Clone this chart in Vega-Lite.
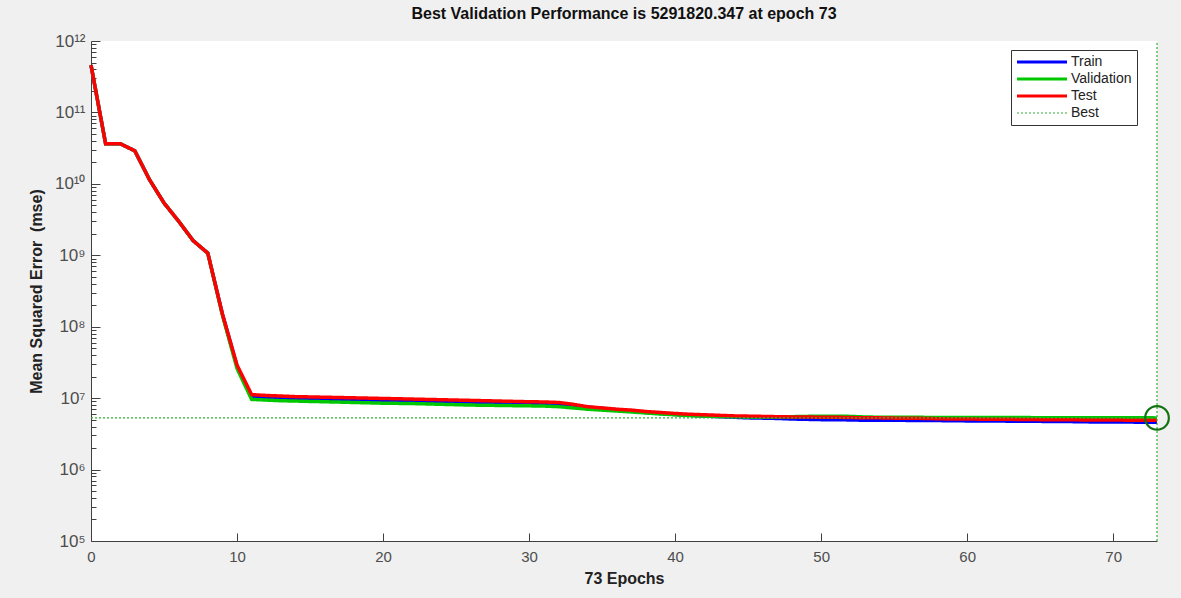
{
  "$schema": "https://vega.github.io/schema/vega-lite/v6.json",
  "width": 1066,
  "height": 500,
  "autosize": {"type": "none"},
  "padding": {"left": 91, "top": 41, "right": 24, "bottom": 57},
  "background": "#f0f0f0",
  "config": {"view": {"fill": "white", "stroke": null}, "font": "Liberation Sans"},
  "title": {"text": "Best Validation Performance is 5291820.347 at epoch 73", "fontSize": 16, "fontWeight": "bold", "color": "#111111", "offset": 10, "font": "Liberation Sans"},
  "datasets": {
    "perf": [
      {"epoch": 0, "Train": 4.6e11, "Validation": 4.6e11, "Test": 4.6e11},
      {"epoch": 1, "Train": 3.65e10, "Validation": 3.65e10, "Test": 3.65e10},
      {"epoch": 2, "Train": 3.65e10, "Validation": 3.65e10, "Test": 3.65e10},
      {"epoch": 3, "Train": 2.9e10, "Validation": 2.9e10, "Test": 2.9e10},
      {"epoch": 4, "Train": 1.15e10, "Validation": 1.15e10, "Test": 1.15e10},
      {"epoch": 5, "Train": 5.4e9, "Validation": 5.4e9, "Test": 5.4e9},
      {"epoch": 6, "Train": 3.0e9, "Validation": 3.0e9, "Test": 3.0e9},
      {"epoch": 7, "Train": 1.6e9, "Validation": 1.6e9, "Test": 1.6e9},
      {"epoch": 8, "Train": 1.07e9, "Validation": 1.07e9, "Test": 1.07e9},
      {"epoch": 9, "Train": 1.5e8, "Validation": 1.45e8, "Test": 1.5e8},
      {"epoch": 10, "Train": 2.8e7, "Validation": 2.6e7, "Test": 2.9e7},
      {"epoch": 11, "Train": 1.02e7, "Validation": 9.6e6, "Test": 1.12e7},
      {"epoch": 12, "Train": 1.0e7, "Validation": 9.4e6, "Test": 1.09e7},
      {"epoch": 13, "Train": 9.9e6, "Validation": 9.2e6, "Test": 1.07e7},
      {"epoch": 14, "Train": 9.8e6, "Validation": 9.1e6, "Test": 1.05e7},
      {"epoch": 15, "Train": 9.7e6, "Validation": 9.0e6, "Test": 1.04e7},
      {"epoch": 16, "Train": 9.6e6, "Validation": 8.9e6, "Test": 1.03e7},
      {"epoch": 17, "Train": 9.5e6, "Validation": 8.8e6, "Test": 1.02e7},
      {"epoch": 18, "Train": 9.4e6, "Validation": 8.7e6, "Test": 1.01e7},
      {"epoch": 19, "Train": 9.3e6, "Validation": 8.6e6, "Test": 1.0e7},
      {"epoch": 20, "Train": 9.2e6, "Validation": 8.5e6, "Test": 9.9e6},
      {"epoch": 21, "Train": 9.1e6, "Validation": 8.45e6, "Test": 9.8e6},
      {"epoch": 22, "Train": 9.0e6, "Validation": 8.4e6, "Test": 9.7e6},
      {"epoch": 23, "Train": 8.95e6, "Validation": 8.3e6, "Test": 9.6e6},
      {"epoch": 24, "Train": 8.9e6, "Validation": 8.2e6, "Test": 9.5e6},
      {"epoch": 25, "Train": 8.85e6, "Validation": 8.1e6, "Test": 9.4e6},
      {"epoch": 26, "Train": 8.8e6, "Validation": 8.0e6, "Test": 9.3e6},
      {"epoch": 27, "Train": 8.7e6, "Validation": 7.95e6, "Test": 9.2e6},
      {"epoch": 28, "Train": 8.6e6, "Validation": 7.9e6, "Test": 9.1e6},
      {"epoch": 29, "Train": 8.55e6, "Validation": 7.85e6, "Test": 9.0e6},
      {"epoch": 30, "Train": 8.5e6, "Validation": 7.8e6, "Test": 8.9e6},
      {"epoch": 31, "Train": 8.45e6, "Validation": 7.75e6, "Test": 8.85e6},
      {"epoch": 32, "Train": 8.3e6, "Validation": 7.6e6, "Test": 8.7e6},
      {"epoch": 33, "Train": 7.9e6, "Validation": 7.3e6, "Test": 8.2e6},
      {"epoch": 34, "Train": 7.5e6, "Validation": 7.0e6, "Test": 7.6e6},
      {"epoch": 35, "Train": 7.2e6, "Validation": 6.8e6, "Test": 7.3e6},
      {"epoch": 36, "Train": 6.9e6, "Validation": 6.6e6, "Test": 7.0e6},
      {"epoch": 37, "Train": 6.6e6, "Validation": 6.4e6, "Test": 6.8e6},
      {"epoch": 38, "Train": 6.3e6, "Validation": 6.2e6, "Test": 6.5e6},
      {"epoch": 39, "Train": 6.1e6, "Validation": 6.0e6, "Test": 6.3e6},
      {"epoch": 40, "Train": 5.9e6, "Validation": 5.85e6, "Test": 6.1e6},
      {"epoch": 41, "Train": 5.75e6, "Validation": 5.7e6, "Test": 5.95e6},
      {"epoch": 42, "Train": 5.6e6, "Validation": 5.6e6, "Test": 5.85e6},
      {"epoch": 43, "Train": 5.5e6, "Validation": 5.55e6, "Test": 5.75e6},
      {"epoch": 44, "Train": 5.4e6, "Validation": 5.5e6, "Test": 5.65e6},
      {"epoch": 45, "Train": 5.3e6, "Validation": 5.45e6, "Test": 5.6e6},
      {"epoch": 46, "Train": 5.25e6, "Validation": 5.45e6, "Test": 5.55e6},
      {"epoch": 47, "Train": 5.2e6, "Validation": 5.45e6, "Test": 5.5e6},
      {"epoch": 48, "Train": 5.1e6, "Validation": 5.5e6, "Test": 5.45e6},
      {"epoch": 49, "Train": 5.05e6, "Validation": 5.55e6, "Test": 5.45e6},
      {"epoch": 50, "Train": 5.0e6, "Validation": 5.6e6, "Test": 5.4e6},
      {"epoch": 51, "Train": 5.0e6, "Validation": 5.6e6, "Test": 5.4e6},
      {"epoch": 52, "Train": 4.95e6, "Validation": 5.55e6, "Test": 5.35e6},
      {"epoch": 53, "Train": 4.9e6, "Validation": 5.45e6, "Test": 5.3e6},
      {"epoch": 54, "Train": 4.9e6, "Validation": 5.4e6, "Test": 5.3e6},
      {"epoch": 55, "Train": 4.9e6, "Validation": 5.4e6, "Test": 5.25e6},
      {"epoch": 56, "Train": 4.88e6, "Validation": 5.4e6, "Test": 5.25e6},
      {"epoch": 57, "Train": 4.86e6, "Validation": 5.38e6, "Test": 5.2e6},
      {"epoch": 58, "Train": 4.85e6, "Validation": 5.37e6, "Test": 5.15e6},
      {"epoch": 59, "Train": 4.83e6, "Validation": 5.36e6, "Test": 5.1e6},
      {"epoch": 60, "Train": 4.8e6, "Validation": 5.36e6, "Test": 5.1e6},
      {"epoch": 61, "Train": 4.8e6, "Validation": 5.35e6, "Test": 5.08e6},
      {"epoch": 62, "Train": 4.78e6, "Validation": 5.35e6, "Test": 5.06e6},
      {"epoch": 63, "Train": 4.76e6, "Validation": 5.34e6, "Test": 5.05e6},
      {"epoch": 64, "Train": 4.75e6, "Validation": 5.34e6, "Test": 5.02e6},
      {"epoch": 65, "Train": 4.73e6, "Validation": 5.33e6, "Test": 5.0e6},
      {"epoch": 66, "Train": 4.72e6, "Validation": 5.33e6, "Test": 4.98e6},
      {"epoch": 67, "Train": 4.7e6, "Validation": 5.32e6, "Test": 4.97e6},
      {"epoch": 68, "Train": 4.66e6, "Validation": 5.32e6, "Test": 4.96e6},
      {"epoch": 69, "Train": 4.64e6, "Validation": 5.31e6, "Test": 4.95e6},
      {"epoch": 70, "Train": 4.63e6, "Validation": 5.31e6, "Test": 4.93e6},
      {"epoch": 71, "Train": 4.62e6, "Validation": 5.3e6, "Test": 4.92e6},
      {"epoch": 72, "Train": 4.61e6, "Validation": 5.3e6, "Test": 4.91e6},
      {"epoch": 73, "Train": 4.6e6, "Validation": 5291820.347, "Test": 4.9e6}
    ],
    "best": [
      {"epoch": 0, "mse": 5291820.347, "set": "Best"},
      {"epoch": 73, "mse": 5291820.347, "set": "Best"}
    ],
    "bestv": [
      {"epoch": 73, "mse": 1e5, "hi": 1e12}
    ],
    "bestpt": [
      {"epoch": 73, "mse": 5291820.347}
    ]
  },
  "layer": [
    {
      "data": {"name": "perf"},
      "transform": [{"fold": ["Train", "Validation", "Test"], "as": ["set", "mse"]}],
      "mark": {"type": "line", "strokeWidth": 3.5, "strokeJoin": "miter"},
      "encoding": {
        "x": {
          "field": "epoch", "type": "quantitative",
          "scale": {"domain": [0, 73], "nice": false, "zero": false},
          "axis": {
            "title": "73 Epochs", "titleFontSize": 16, "titleFontWeight": "bold", "titleColor": "#222222", "titlePadding": 6,
            "values": [0, 10, 20, 30, 40, 50, 60, 70],
            "tickSize": -8, "tickColor": "#404040", "domainColor": "#404040", "grid": false,
            "labelFontSize": 15, "labelColor": "#4d4d4d", "labelPadding": 16, "labelFlush": false
          }
        },
        "y": {
          "field": "mse", "type": "quantitative",
          "scale": {"type": "log", "domain": [1e5, 1e12], "nice": false},
          "axis": {
            "title": "Mean Squared Error \u00a0(mse)", "titleFontSize": 16, "titleFontWeight": "bold", "titleColor": "#222222", "titlePadding": 10,
            "values": [100000, 200000, 300000, 400000, 500000, 600000, 700000, 800000, 900000,
                       1000000, 2000000, 3000000, 4000000, 5000000, 6000000, 7000000, 8000000, 9000000,
                       10000000, 20000000, 30000000, 40000000, 50000000, 60000000, 70000000, 80000000, 90000000,
                       100000000, 200000000, 300000000, 400000000, 500000000, 600000000, 700000000, 800000000, 900000000,
                       1000000000, 2000000000, 3000000000, 4000000000, 5000000000, 6000000000, 7000000000, 8000000000, 9000000000,
                       10000000000, 20000000000, 30000000000, 40000000000, 50000000000, 60000000000, 70000000000, 80000000000, 90000000000,
                       100000000000, 200000000000, 300000000000, 400000000000, 500000000000, 600000000000, 700000000000, 800000000000, 900000000000,
                       1000000000000],
            "labelExpr": "datum.value == 1e12 ? '10¹²' : datum.value == 1e11 ? '10¹¹' : datum.value == 1e10 ? '10¹⁰' : datum.value == 1e9 ? '10⁹' : datum.value == 1e8 ? '10⁸' : datum.value == 1e7 ? '10⁷' : datum.value == 1e6 ? '10⁶' : datum.value == 1e5 ? '10⁵' : ''",
            "tickSize": {"condition": {"test": "abs(log(datum.value)/LN10 - round(log(datum.value)/LN10)) < 0.000001", "value": -9}, "value": -5},
            "tickColor": "#404040", "domainColor": "#404040", "grid": false,
            "labelFontSize": 17, "labelColor": "#4d4d4d", "labelPadding": 15, "labelOverlap": false, "labelFlush": false, "labelBound": false
          }
        },
        "color": {
          "field": "set", "type": "nominal",
          "scale": {"domain": ["Train", "Validation", "Test", "Best"], "range": ["#0000ff", "#00c800", "#ff0000", "#33b033"]},
          "legend": {
            "orient": "none", "legendX": 920, "legendY": 9, "title": null,
            "fillColor": "white", "strokeColor": "#333333", "padding": 5,
            "labelFontSize": 14, "labelColor": "#222222", "labelOffset": 22, "symbolOffset": 19,
            "symbolType": "stroke", "symbolSize": 2500, "symbolStrokeWidth": 3, "rowPadding": 3,
            "encode": {"symbols": {"update": {"strokeWidth": {"signal": "datum.value === 'Best' ? 1.2 : 3"}}}}
          }
        },
        "strokeDash": {
          "field": "set", "type": "nominal",
          "scale": {"domain": ["Train", "Validation", "Test", "Best"], "range": [[1, 0], [1, 0], [1, 0], [2, 2]]},
          "legend": {
            "orient": "none", "legendX": 920, "legendY": 9, "title": null
          }
        }
      }
    },
    {
      "data": {"name": "best"},
      "mark": {"type": "line", "strokeWidth": 1.2},
      "encoding": {
        "x": {"field": "epoch", "type": "quantitative"},
        "y": {"field": "mse", "type": "quantitative"},
        "color": {"field": "set", "type": "nominal"},
        "strokeDash": {"field": "set", "type": "nominal"}
      }
    },
    {
      "data": {"name": "bestv"},
      "mark": {"type": "rule", "color": "#33b033", "strokeWidth": 1.2, "strokeDash": [2, 2]},
      "encoding": {
        "x": {"field": "epoch", "type": "quantitative"},
        "y": {"field": "mse", "type": "quantitative"},
        "y2": {"field": "hi"}
      }
    },
    {
      "data": {"name": "bestpt"},
      "mark": {"type": "point", "shape": "circle", "filled": false, "size": 560, "stroke": "#137313", "strokeWidth": 2.2, "opacity": 1},
      "encoding": {
        "x": {"field": "epoch", "type": "quantitative"},
        "y": {"field": "mse", "type": "quantitative"}
      }
    }
  ]
}
